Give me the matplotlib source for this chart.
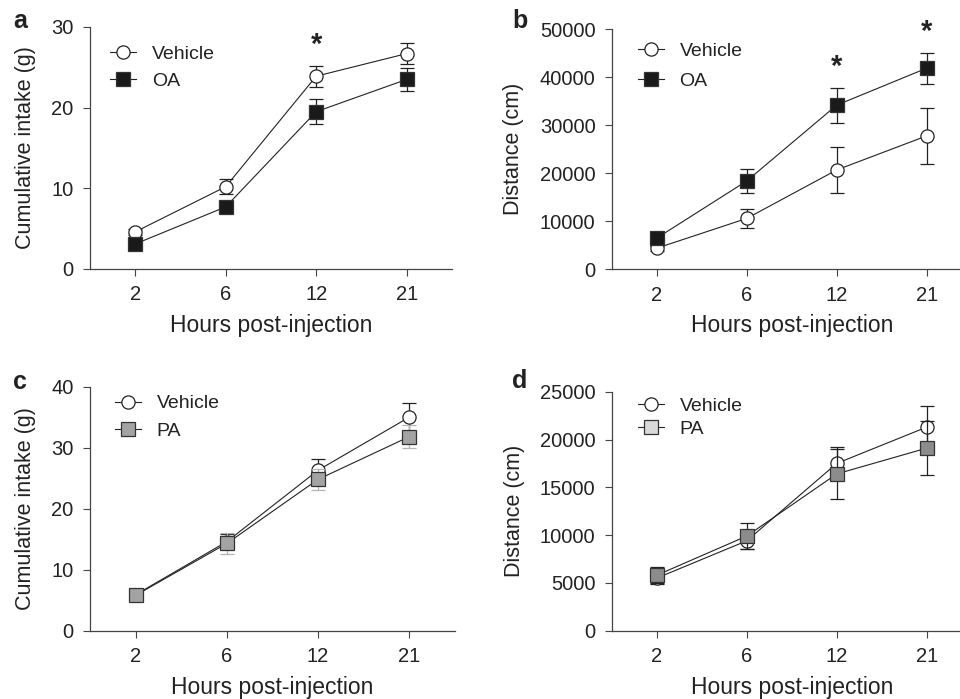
import matplotlib
matplotlib.use('Agg')
import matplotlib.pyplot as plt
from matplotlib.lines import Line2D

plt.rcParams['font.family'] = ['Liberation Sans', 'DejaVu Sans']

hours = ['2', '6', '12', '21']

# a: cumulative intake, vehicle vs OA
a_veh = [4.6, 10.2, 23.9, 26.7]
a_veh_err = [0.4, 0.9, 1.3, 1.35]
a_oa = [3.1, 7.7, 19.5, 23.5]
a_oa_err = [0.4, 0.6, 1.55, 1.45]

# b: distance, vehicle vs OA
b_veh = [4400, 10600, 20700, 27800]
b_veh_err = [500, 2000, 4800, 5850]
b_oa = [6500, 18400, 34200, 41900]
b_oa_err = [700, 2600, 3650, 3200]

# c: cumulative intake, vehicle vs PA
c_veh = [5.9, 14.6, 26.3, 35.0]
c_veh_err = [0.5, 1.2, 1.9, 2.4]
c_pa = [5.8, 14.3, 24.8, 31.8]
c_pa_err = [0.6, 1.7, 1.75, 1.9]

# d: distance, vehicle vs PA
d_veh = [5500, 9400, 17500, 21300]
d_veh_err = [600, 900, 1750, 2200]
d_pa = [5800, 9900, 16400, 19100]
d_pa_err = [850, 1330, 2600, 2850]

a_stars = [2]
b_stars = [2, 3]

INK = '#222222'
x = list(range(len(hours)))

fig = plt.figure(figsize=(9.6, 6.99), dpi=100)


def panel(rect, ylim, yticks, ylabel, veh, veh_err, trt, trt_err, trt_name,
          trt_fill, trt_err_col, legend_fill, leg_anchor, leg_space, stars=()):
    ax = fig.add_axes(rect)
    ax.errorbar(x, veh, yerr=veh_err, color=INK, lw=0.8, elinewidth=0.9,
                capsize=4.7, capthick=0.9, marker='o', ms=9.5, mfc='white',
                mec=INK, mew=0.9, zorder=3)
    ax.errorbar(x, trt, yerr=trt_err, color=INK, lw=0.8, elinewidth=0.9,
                ecolor=trt_err_col, capsize=4.7, capthick=0.9, marker='s',
                ms=10, mfc=trt_fill, mec='#333333', mew=0.9, zorder=4)
    ax.set_xlim(-0.5, 3.5)
    ax.set_ylim(*ylim)
    ax.set_xticks(x)
    ax.set_xticklabels(hours)
    ax.set_yticks(yticks)
    for s in ['top', 'right']:
        ax.spines[s].set_visible(False)
    for s in ['left', 'bottom']:
        ax.spines[s].set_color('#444444')
        ax.spines[s].set_linewidth(0.9)
    ax.tick_params(direction='out', length=4.7, width=0.8, colors='#444444',
                   labelcolor=INK, labelsize=14.5, pad=7)
    ax.set_ylabel(ylabel, fontsize=15.5, color=INK, labelpad=11)
    ax.set_xlabel('Hours post-injection', fontsize=16.5, color=INK, labelpad=7)
    handles = [
        Line2D([], [], color=INK, lw=0.8, marker='o', ms=9.5, mfc='white',
               mec=INK, mew=0.9),
        Line2D([], [], color=INK, lw=0.8, marker='s', ms=10, mfc=legend_fill,
               mec='#333333', mew=0.9),
    ]
    ax.legend(handles, ['Vehicle', trt_name], loc='upper left',
              bbox_to_anchor=leg_anchor, frameon=False, fontsize=14,
              handlelength=1.35, handletextpad=0.8, labelspacing=leg_space,
              borderpad=0, borderaxespad=0, labelcolor=INK)
    for i in stars:
        top = max(veh[i] + veh_err[i], trt[i] + trt_err[i])
        ax.annotate('*', (x[i], top), xytext=(0, 5), textcoords='offset points',
                    ha='center', va='bottom', fontsize=21, fontweight='bold',
                    color=INK)
    return ax


panel([0.09375, 0.6152, 0.377, 0.3462], (0, 30), [0, 10, 20, 30],
      'Cumulative intake (g)', a_veh, a_veh_err, a_oa, a_oa_err, 'OA',
      '#1a1a1a', INK, '#1a1a1a', (0.055, 0.926), 0.5, a_stars)
panel([0.6372, 0.6147, 0.375, 0.3434], (0, 50000),
      [0, 10000, 20000, 30000, 40000, 50000], 'Distance (cm)',
      b_veh, b_veh_err, b_oa, b_oa_err, 'OA', '#1a1a1a', INK, '#1a1a1a',
      (0.072, 0.9475), 0.65, b_stars)
panel([0.09375, 0.0977, 0.380, 0.3491], (0, 40), [0, 10, 20, 30, 40],
      'Cumulative intake (g)', c_veh, c_veh_err, c_pa, c_pa_err, 'PA',
      '#a3a3a3', '#b3b3b3', '#a3a3a3', (0.068, 0.967), 0.5)
panel([0.6372, 0.0977, 0.375, 0.3419], (0, 25000),
      [0, 5000, 10000, 15000, 20000, 25000], 'Distance (cm)',
      d_veh, d_veh_err, d_pa, d_pa_err, 'PA', '#8c8c8c', INK, '#d9d9d9',
      (0.072, 0.977), 0.3)

for lab, px, py in [('a', 13, 9), ('b', 512, 9), ('c', 13, 370), ('d', 512, 369)]:
    fig.text(px / 960, 1 - py / 699, lab, fontsize=18, fontweight='bold',
             color=INK, va='top', ha='left')

fig.savefig('out.png', dpi=100)
